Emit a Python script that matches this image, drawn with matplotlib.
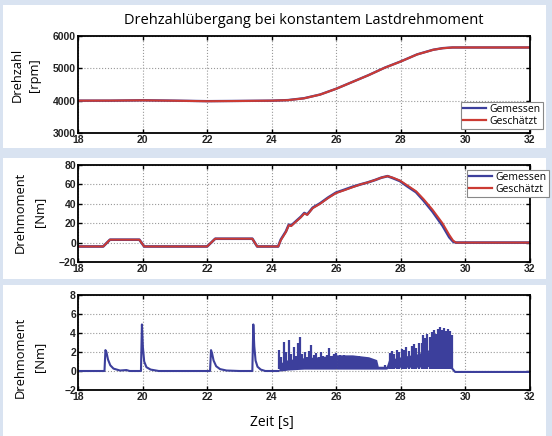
import numpy as np
import matplotlib
matplotlib.use("Agg")
import matplotlib.pyplot as plt
from matplotlib.patches import Rectangle

# --- data ---
# panel 1: speed [rpm]
speed_t = [18.0, 19.0, 20.0, 21.0, 22.0, 23.0, 24.0, 24.5, 25.0, 25.5, 26.0, 26.5,
           27.0, 27.5, 28.0, 28.5, 29.0, 29.3, 29.6, 30.0, 32.0]
speed_meas = [4000, 4000, 4012, 4000, 3985, 3992, 4000, 4018, 4075, 4190, 4370, 4580,
              4790, 5020, 5215, 5430, 5575, 5625, 5645, 5645, 5645]
speed_est = [4000, 4002, 4010, 3998, 3983, 3990, 4000, 4015, 4072, 4188, 4368, 4578,
             4788, 5018, 5212, 5428, 5572, 5622, 5645, 5645, 5645]

# panel 2: torque [Nm]
tq_t = [18.0, 18.78, 18.99, 19.9, 20.05, 22.0, 22.25, 23.4, 23.55, 24.2, 24.28, 24.44,
        24.53, 24.6, 24.75, 24.9, 25.01, 25.1, 25.27, 25.5, 25.75, 25.99, 26.25, 26.5,
        26.75, 26.97, 27.2, 27.4, 27.59, 27.75, 27.97, 28.2, 28.47, 28.7, 28.98, 29.29,
        29.5, 29.62, 29.71, 32.0]
tq_meas = [-4, -4, 3, 3, -4, -4, 4, 4, -4, -4, 3.0, 11.5, 18.5, 17.5, 22, 26.5, 30.5,
           29, 36, 40.5, 46.5, 51.5, 54.5, 57.5, 60, 62, 64.5, 67, 68.5, 66.5, 63.5,
           58, 52, 43.5, 32, 17.5, 5.5, 1, 0, 0]
tq_est = [-4, -4, 3, 3, -4, -4, 4, 4, -4, -4, 2.4, 11, 18, 17, 21.6, 26, 30, 28.6,
          35.5, 40, 46, 51, 54, 57, 60, 62, 64.5, 67, 68.5, 67, 64, 59, 53, 45, 34, 20,
          8, 2, 0, 0]

# panel 3: torque error [Nm], quiet part with four spikes
err_t = [18.0, 18.5, 18.82, 18.85, 18.88, 18.93, 19.0, 19.1, 19.3, 19.5, 19.6, 19.95,
         19.98, 20.01, 20.05, 20.12, 20.25, 20.5, 21.0, 22.09, 22.12, 22.15, 22.2, 22.28,
         22.4, 22.6, 23.0, 23.4, 23.43, 23.46, 23.5, 23.56, 23.66, 23.8, 24.2]
err_v = [0.0, 0.0, 0.0, 2.2, 2.0, 1.2, 0.6, 0.25, 0.05, 0.1, 0.0, 0.0, 4.9, 2.5, 1.0,
         0.4, 0.15, 0.0, 0.0, 0.0, 2.2, 1.9, 1.1, 0.5, 0.2, 0.05, 0.0, 0.0, 4.9, 2.6,
         1.1, 0.45, 0.15, 0.0, 0.0]
# noisy part: dense band envelope
band_t = [24.2, 24.3, 24.5, 25.0, 25.5, 26.0, 26.5, 27.0, 27.25, 27.3, 27.55, 27.62,
          28.0, 28.5, 29.0, 29.5, 29.6]
band_top = [0.0, 0.9, 1.2, 1.4, 1.5, 1.7, 1.7, 1.5, 1.2, 0.5, 0.5, 1.2, 1.5, 1.8,
            2.4, 2.8, 2.5]
band_bot = [0.0, 0.0, 0.1, 0.2, 0.2, 0.2, 0.2, 0.2, 0.2, 0.2, 0.2, 0.3, 0.4, 0.4,
            0.5, 0.5, 0.3]
# noisy part: individual spike tops
spike_t = [24.22, 24.3, 24.38, 24.45, 24.53, 24.6, 24.69, 24.75, 24.82, 24.88, 24.95,
           25.02, 25.1, 25.16, 25.22, 25.3, 25.37, 25.45, 25.53, 25.6, 25.7, 25.78,
           25.85, 25.93, 25.99, 26.1, 26.25, 26.4, 26.55, 26.7, 26.85, 27.0, 27.1, 27.2,
           27.5, 27.65, 27.72, 27.8, 27.88, 27.95, 28.03, 28.1, 28.16, 28.25, 28.33,
           28.4, 28.48, 28.56, 28.64, 28.7, 28.75, 28.82, 28.9, 28.96, 29.02, 29.1,
           29.16, 29.22, 29.28, 29.34, 29.4, 29.46, 29.52, 29.57]
spike_v = [2.2, 1.5, 3.05, 2.0, 3.25, 1.8, 2.5, 1.6, 2.9, 3.6, 1.8, 2.0, 1.5, 2.1, 2.7,
           1.7, 1.9, 1.5, 2.0, 1.6, 1.7, 2.4, 1.6, 1.8, 1.9, 1.7, 1.7, 1.6, 1.6, 1.6,
           1.5, 1.4, 1.2, 1.1, 0.6, 1.9, 2.1, 1.8, 2.2, 2.0, 2.3, 2.2, 2.5, 2.1, 2.6,
           2.8, 2.4, 3.0, 2.9, 3.8, 3.5, 3.9, 3.6, 4.1, 4.3, 3.9, 4.4, 4.6, 4.3, 4.5,
           4.2, 4.4, 4.2, 3.8]
tail_t = [29.58, 29.68, 32.0]
tail_v = [0.3, -0.1, -0.1]

x_ticks = [18, 20, 22, 24, 26, 28, 30, 32]

BG = "#d9e3f1"
BLUE = "#3c3f9c"
RED = "#cc3b33"
W, H = 552, 436

fig = plt.figure(figsize=(W / 100, H / 100), dpi=100)
fig.patch.set_facecolor(BG)

# white panels (pixel boxes -> figure fraction), kept below the axes
for x0, y0, x1, y1 in [(3, 5, 546, 148), (3, 158, 546, 279), (3, 285, 546, 436)]:
    fig.patches.append(Rectangle((x0 / W, 1 - y1 / H), (x1 - x0) / W, (y1 - y0) / H,
                                 transform=fig.transFigure, facecolor="white",
                                 edgecolor="none", zorder=-10))


def make_ax(top, bottom, ylim, yticks):
    ax = fig.add_axes([78 / W, 1 - bottom / H, 452 / W, (bottom - top) / H])
    ax.set_xlim(18, 32)
    ax.set_xticks(x_ticks)
    ax.set_ylim(*ylim)
    ax.set_yticks(yticks)
    ax.tick_params(direction="in", top=True, right=True, length=3, width=1,
                   labelsize=7.5, pad=1.5)
    for lab in ax.get_xticklabels() + ax.get_yticklabels():
        lab.set_fontfamily("Liberation Sans")
        lab.set_fontweight("bold")
        lab.set_color("#222222")
    ax.grid(True, linestyle=":", color="#999999", linewidth=0.8)
    for s in ax.spines.values():
        s.set_linewidth(1.3)
    return ax


def legend(ax, x, y):
    h = [plt.Line2D([], [], color=BLUE, lw=1.6), plt.Line2D([], [], color=RED, lw=1.6)]
    lg = ax.legend(h, ["Gemessen", "Geschätzt"], loc="upper right",
                   bbox_to_anchor=(x / W, 1 - y / H), bbox_transform=fig.transFigure,
                   fancybox=False, edgecolor="#888888", framealpha=1, fontsize=7.5,
                   handlelength=2.2, borderpad=0.2, labelspacing=0.05,
                   handletextpad=0.4, borderaxespad=0)
    lg.get_frame().set_linewidth(0.8)
    for t in lg.get_texts():
        t.set_fontfamily("Open Sans")


# panel 1
ax1 = make_ax(36, 133, (3000, 6000), [3000, 4000, 5000, 6000])
ax1.plot(speed_t, speed_meas, color=BLUE, lw=1.7)
ax1.plot(speed_t, speed_est, color=RED, lw=1.5)
legend(ax1, 543, 102)

# panel 2
ax2 = make_ax(165, 262, (-20, 80), [-20, 0, 20, 40, 60, 80])
ax2.plot(tq_t, tq_meas, color=BLUE, lw=1.9)
ax2.plot(tq_t, tq_est, color=RED, lw=1.4)
legend(ax2, 549, 170)

# panel 3
ax3 = make_ax(295, 390, (-2, 8), [-2, 0, 2, 4, 6, 8])
ax3.plot(err_t, err_v, color=BLUE, lw=1.5)
ax3.fill_between(band_t, band_bot, band_top, color=BLUE, lw=0)
ax3.vlines(spike_t, 0.2, spike_v, color=BLUE, lw=1.6)
ax3.plot(tail_t, tail_v, color=BLUE, lw=1.5)

# texts
fig.text(304 / W, 1 - 20 / H, "Drehzahlübergang bei konstantem Lastdrehmoment",
         ha="center", va="center", fontsize=10.5, family="Open Sans")
fig.text(272 / W, 1 - 422 / H, "Zeit [s]", ha="center", va="center",
         fontsize=10, family="Open Sans")
for cx, cy, ls, txt in [(26, 75, 1.35, "Drehzahl\n[rpm]"),
                        (30, 212, 1.6, "Drehmoment\n[Nm]"),
                        (30, 357, 1.6, "Drehmoment\n[Nm]")]:
    fig.text(cx / W, 1 - cy / H, txt, ha="center", va="center", rotation=90,
             fontsize=9.3, family="Open Sans", linespacing=ls, multialignment="center")

fig.savefig("out.png", dpi=100, facecolor=fig.get_facecolor())
